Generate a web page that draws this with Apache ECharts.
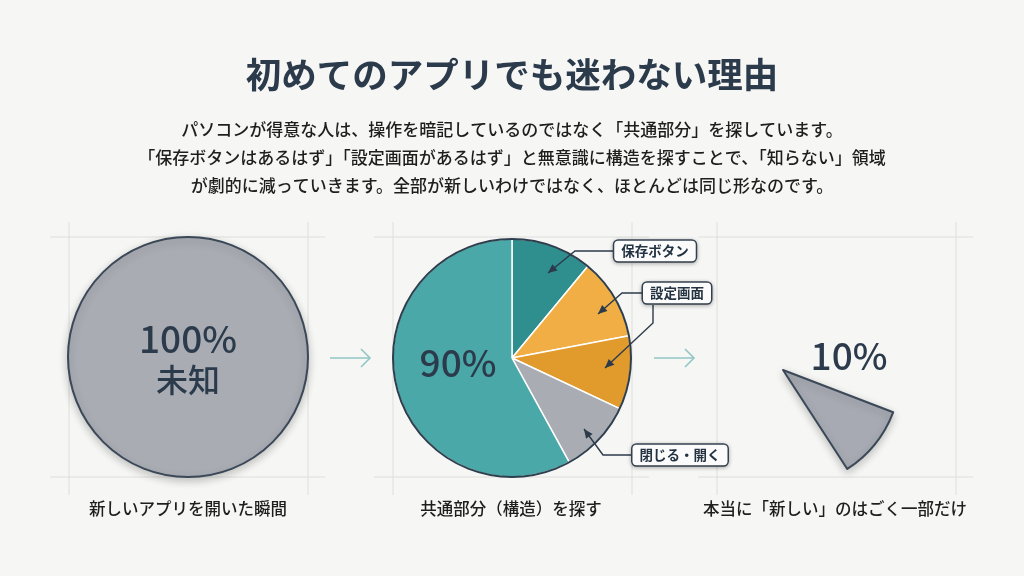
<!DOCTYPE html>
<html>
<head>
<meta charset="utf-8">
<script src="https://cdn.jsdelivr.net/npm/echarts@6/dist/echarts.min.js"></script>
<style>
  html, body { margin: 0; padding: 0; background: #f6f6f4; }
  #main { width: 1024px; height: 576px; }
</style>
</head>
<body>
<div id="main"></div>
<script>
// データ
const titleText = '初めてのアプリでも迷わない理由'
const bodyLines = [
  'パソコンが得意な人は、操作を暗記しているのではなく「共通部分」を探しています。',
  '「保存ボタンはあるはず」「設定画面があるはず」と無意識に構造を探すことで、「知らない」領域',
  'が劇的に減っていきます。全部が新しいわけではなく、ほとんどは同じ形なのです。'
]
const stepLabels = ['新しいアプリを開いた瞬間', '共通部分（構造）を探す', '本当に「新しい」のはごく一部だけ']

const unknownNames = ['未知']
const unknownValues = [100]

const structNames = ['保存ボタン', '設定画面', '設定画面（詳細）', '閉じる・開く', 'その他の共通部分']
const structValues = [11, 11, 10, 10, 58]
const structColors = ['#2f8e8e', '#f0ae45', '#e19a2c', '#a9acb3', '#4aa9a8']

const newNames = ['新しい', 'それ以外']
const newValues = [10, 90]

const centerTexts = ['100%', '未知', '90%', '10%']
const calloutNames = ['保存ボタン', '設定画面', '閉じる・開く']

const FONT = '"Noto Sans CJK JP", "Noto Sans", sans-serif'
const DARK = '#2c3b4b'

var chartDom = document.getElementById('main');
var myChart = echarts.init(chartDom);

// 矢印 (線 + 三角)
const arrow = (pts, color, width, size) => {
  const tip = pts[pts.length - 1]
  const from = pts[pts.length - 2]
  const dx = tip[0] - from[0], dy = tip[1] - from[1]
  const len = Math.sqrt(dx * dx + dy * dy)
  const ux = dx / len, uy = dy / len
  const px = -uy, py = ux
  const bx = tip[0] - ux * size, by = tip[1] - uy * size
  return [
    { type: 'polyline', z: 20, shape: { points: pts }, style: { stroke: color, lineWidth: width, fill: null } },
    { type: 'polygon', z: 20, shape: { points: [tip, [bx + px * size * 0.45, by + py * size * 0.45], [bx - px * size * 0.45, by - py * size * 0.45]] }, style: { fill: color } }
  ]
}

// ステップ間の矢印 (細い線)
const stepArrow = (x1, x2, y) => {
  const c = '#8fc6c4'
  return [
    { type: 'line', z: 20, shape: { x1: x1, y1: y, x2: x2, y2: y }, style: { stroke: c, lineWidth: 1.5 } },
    { type: 'polyline', z: 20, shape: { points: [[x2 - 9, y - 9], [x2, y], [x2 - 9, y + 9]] }, style: { stroke: c, lineWidth: 1.5, fill: null } }
  ]
}

// 補助線
const guide = (left, right) => {
  const c = '#dedede'
  return [
    { type: 'line', z: 0, shape: { x1: left, y1: 222, x2: left, y2: 495 }, style: { stroke: c, lineWidth: 1 } },
    { type: 'line', z: 0, shape: { x1: right, y1: 222, x2: right, y2: 495 }, style: { stroke: c, lineWidth: 1 } },
    { type: 'line', z: 0, shape: { x1: left - 19, y1: 237, x2: right + 17, y2: 237 }, style: { stroke: c, lineWidth: 1 } },
    { type: 'line', z: 0, shape: { x1: left - 19, y1: 477, x2: right + 17, y2: 477 }, style: { stroke: c, lineWidth: 1 } }
  ]
}

const textEl = (text, x, y, size, weight, color) => ({
  type: 'text', z: 20, x: x, y: y,
  style: { text: text, align: 'center', verticalAlign: 'middle', font: `${weight} ${size}px ${FONT}`, fill: color }
})

const boxEl = (text, x, y) => ({
  type: 'text', z: 25, x: x, y: y,
  style: {
    text: text, align: 'center', verticalAlign: 'middle',
    font: `bold 13.5px ${FONT}`, fill: '#243342',
    backgroundColor: '#fbfbfb', borderColor: '#3a4756', borderWidth: 1.5, borderRadius: 4,
    padding: [4, 7, 3, 7],
    shadowColor: 'rgba(0,0,0,0.25)', shadowBlur: 4, shadowOffsetY: 1
  }
})

const centers = [[188, 357], [512, 358], [783, 370]]
const shadow = { shadowColor: 'rgba(0,0,0,0.22)', shadowBlur: 8, shadowOffsetY: 3 }

let graphics = []
graphics = graphics.concat(guide(69, 308), guide(393, 632), guide(717, 956))
graphics.push(textEl(titleText, 512, 75, 35.5, 'bold', DARK))
bodyLines.forEach((t, i) => {
  graphics.push(textEl(t, 512, 130 + i * 28, 17, '500', '#1e1e1e'))
})
graphics.push(textEl(stepLabels[0], 188, 509, 16.5, '500', '#1e1e1e'))
graphics.push(textEl(stepLabels[1], 511, 509, 16.5, '500', '#1e1e1e'))
graphics.push(textEl(stepLabels[2], 835, 509, 16.5, '500', '#1e1e1e'))

graphics.push(textEl(centerTexts[0], 188, 339, 37, '500', DARK))
graphics.push(textEl(centerTexts[1], 188, 380, 32, '500', DARK))
graphics.push(textEl(centerTexts[2], 458, 363, 37, '500', DARK))
graphics.push(textEl(centerTexts[3], 849, 356, 37, '500', DARK))

graphics = graphics.concat(stepArrow(330, 370, 358), stepArrow(654, 694, 358))

graphics = graphics.concat(
  arrow([[613, 251], [575, 251], [548, 273]], DARK, 1.4, 9),
  arrow([[642, 293], [622, 293], [598, 314]], DARK, 1.4, 9),
  arrow([[653, 305], [653, 323], [605, 368]], DARK, 1.4, 9),
  arrow([[632, 455], [603, 455], [584, 429]], DARK, 1.4, 9)
)
graphics.push(boxEl(calloutNames[0], 655, 251))
graphics.push(boxEl(calloutNames[1], 677, 293))
graphics.push(boxEl(calloutNames[2], 680, 455))

const basePie = {
  type: 'pie',
  silent: true,
  label: { show: false },
  labelLine: { show: false },
  emphasis: { disabled: true },
  animation: false
}

var option = {
  backgroundColor: '#f6f6f4',
  graphic: { elements: graphics },
  series: [
    Object.assign({}, basePie, {
      center: centers[0],
      radius: 120,
      data: unknownNames.map((n, i) => ({ name: n, value: unknownValues[i] })),
      itemStyle: Object.assign({ color: '#a9acb3', borderColor: '#3b4858', borderWidth: 2 }, shadow)
    }),
    Object.assign({}, basePie, {
      center: centers[1],
      radius: 119,
      startAngle: 90,
      clockwise: true,
      data: structNames.map((n, i) => ({ name: n, value: structValues[i], itemStyle: { color: structColors[i] } })),
      itemStyle: { borderColor: '#ffffff', borderWidth: 1.5 }
    }),
    // 外枠
    Object.assign({}, basePie, {
      center: centers[1],
      radius: 119,
      data: [{ name: 'outline', value: 1 }],
      itemStyle: { color: 'rgba(0,0,0,0)', borderColor: '#2f3e4d', borderWidth: 2 }
    }),
    Object.assign({}, basePie, {
      center: centers[2],
      radius: 118,
      startAngle: -21,
      clockwise: true,
      data: newNames.map((n, i) => ({
        name: n, value: newValues[i],
        itemStyle: i === 0
          ? Object.assign({ color: '#a7aab2', borderColor: '#3b4858', borderWidth: 2, borderJoin: 'round' }, shadow)
          : { color: 'rgba(0,0,0,0)', borderWidth: 0 }
      }))
    })
  ]
};

myChart.setOption(option);
</script>
</body>
</html>
